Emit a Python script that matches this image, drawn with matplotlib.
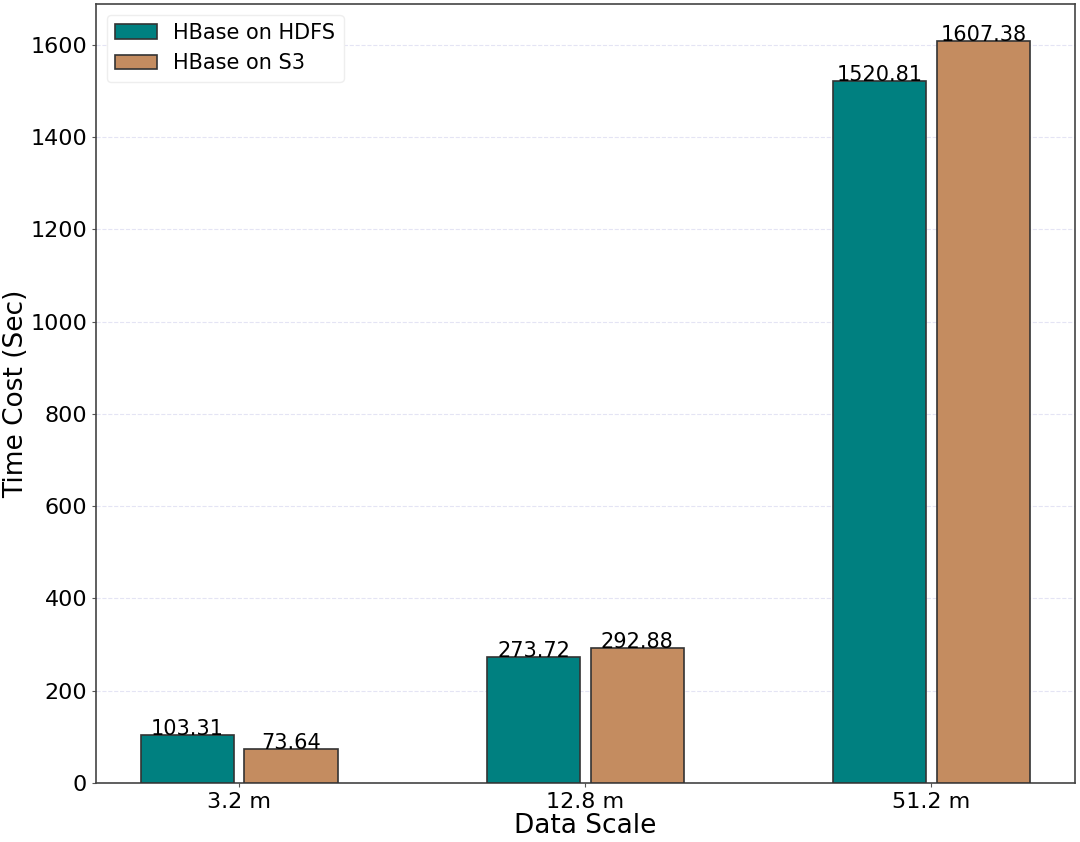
import numpy as np
import matplotlib
matplotlib.use("Agg")
import matplotlib.pyplot as plt

scales = ["3.2 m", "12.8 m", "51.2 m"]
hdfs_times = [103.31, 273.72, 1520.81]
s3_times = [73.64, 292.88, 1607.38]

x = np.arange(len(scales))
width = 0.27
offset = 0.15

fig, ax = plt.subplots(figsize=(10.8, 8.42), dpi=100)
fig.subplots_adjust(left=0.089, right=0.995, top=0.995, bottom=0.07)

b1 = ax.bar(x - offset, hdfs_times, width, color="#008080", edgecolor="#333333",
            linewidth=1.2, label="HBase on HDFS", zorder=3)
b2 = ax.bar(x + offset, s3_times, width, color="#c48c60", edgecolor="#333333",
            linewidth=1.2, label="HBase on S3", zorder=3)

for bars in (b1, b2):
    for rect in bars:
        h = rect.get_height()
        ax.text(rect.get_x() + rect.get_width() / 2, h, "%.2f" % h,
                ha="center", va="baseline", fontsize=15, zorder=4)

ax.set_xticks(x)
ax.set_xticklabels(scales)
ax.tick_params(axis="both", labelsize=16, length=3, color="#555555")
ax.set_xlabel("Data Scale", fontsize=19, labelpad=1)
ax.set_ylabel("Time Cost (Sec)", fontsize=19, labelpad=1)
ax.yaxis.grid(True, color="#e4e4f4", linestyle="--", linewidth=0.8, zorder=0)
ax.set_axisbelow(True)
for s in ax.spines.values():
    s.set_color("#444444")
    s.set_linewidth(1.2)

ax.legend(loc="upper left", fontsize=15, framealpha=1, edgecolor="#eeeeee")

fig.savefig("out.png", dpi=100)
